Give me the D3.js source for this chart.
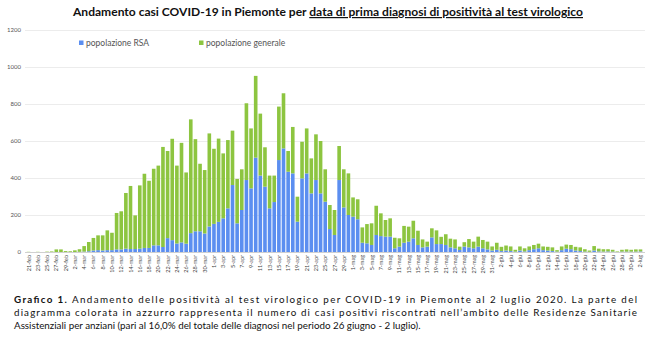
<!DOCTYPE html>
<html>
<head>
<meta charset="utf-8">
<script src="https://d3js.org/d3.v7.min.js"></script>
<style>
  html, body { margin: 0; padding: 0; background: #fff; }
  svg { display: block; font-family: 'Lato', 'DejaVu Sans', sans-serif; }
</style>
</head>
<body>
<div id="chart"></div>
<script>
// casi per giorno, 21-feb .. 2-lug
const rsa = [
  0, 0, 0, 0, 0, 0, 0, 0, 0, 0,
  0, 1, 2, 4, 8, 10, 8, 10, 10, 14,
  14, 18, 16, 16, 18, 22, 22, 36, 36, 27,
  75, 64, 46, 52, 45, 102, 112, 112, 100, 138,
  152, 163, 182, 236, 362, 155, 227, 389, 344, 510,
  413, 353, 236, 270, 497, 560, 434, 425, 164, 398,
  425, 317, 389, 317, 272, 124, 92, 389, 241, 200,
  191, 177, 50, 47, 38, 92, 86, 83, 83, 20,
  29, 50, 56, 74, 38, 25, 29, 79, 43, 43,
  38, 25, 20, 11, 29, 25, 20, 29, 20, 14,
  8, 12, 5, 8, 5, 2, 8, 3, 10, 15,
  20, 10, 8, 5, 2, 10, 18, 15, 8, 5,
  2, 1, 8, 3, 2, 3, 2, 0, 2, 2,
  2, 2, 3
];
const generale = [
  1, 0, 1, 0, 2, 3, 14, 14, 5, 4,
  9, 14, 30, 50, 68, 80, 82, 107, 94, 197,
  206, 301, 341, 182, 342, 401, 363, 414, 431, 541,
  471, 548, 421, 538, 385, 615, 498, 365, 343, 503,
  406, 450, 351, 369, 294, 240, 220, 415, 324, 442,
  335, 213, 177, 143, 289, 298, 112, 251, 135, 198,
  243, 189, 247, 283, 175, 130, 135, 184, 206, 225,
  104, 108, 83, 104, 117, 158, 123, 90, 99, 57,
  45, 91, 81, 95, 77, 43, 27, 49, 74, 39,
  58, 47, 48, 18, 24, 45, 36, 54, 45, 42,
  22, 38, 23, 27, 25, 10, 22, 17, 20, 23,
  25, 20, 20, 20, 8, 20, 22, 23, 20, 20,
  13, 7, 24, 15, 13, 12, 10, 3, 10, 12,
  10, 12, 11
];
const mesi = ["gen", "feb", "mar", "apr", "mag", "giu", "lug"];
const yTicks = [0, 200, 400, 600, 800, 1000, 1200];
const serie = [
  { key: "rsa", label: "popolazione RSA", color: "#5b8ef0" },
  { key: "generale", label: "popolazione generale", color: "#8dc540" }
];

const giorni = d3.timeDay.range(new Date(2020, 1, 21), new Date(2020, 6, 3));
const fmt = d => d.getDate() + "-" + mesi[d.getMonth()];
const dates = giorni.map(fmt);

const rows = dates.map((d, i) => ({ date: d, rsa: rsa[i], generale: generale[i] }));

const W = 650, H = 354;
const svg = d3.select("#chart").append("svg")
  .attr("width", W).attr("height", H);

const x = d3.scaleBand()
  .domain(dates)
  .range([26.7, 642.3])
  .paddingInner(0.22);

const y = d3.scaleLinear()
  .domain([0, 1200])
  .range([252, 30]);

// griglia
svg.append("g")
  .selectAll("line")
  .data(yTicks)
  .enter().append("line")
  .attr("x1", 25).attr("x2", 645)
  .attr("y1", d => y(d) + 0.5).attr("y2", d => y(d) + 0.5)
  .attr("stroke", d => d === 0 ? "#d0d0d0" : "#ececec")
  .attr("stroke-width", 1);

svg.append("g")
  .selectAll("text")
  .data(yTicks)
  .enter().append("text")
  .attr("x", 21).attr("y", d => y(d) + 2)
  .attr("text-anchor", "end")
  .style("font-size", "6px")
  .style("fill", "#555")
  .text(d => d);

// barre
const stack = d3.stack().keys(serie.map(s => s.key));
const layers = stack(rows);

svg.append("g")
  .selectAll("g")
  .data(layers)
  .enter().append("g")
  .attr("fill", (d, i) => serie[i].color)
  .selectAll("rect")
  .data(d => d)
  .enter().append("rect")
  .attr("x", d => x(d.data.date))
  .attr("width", x.bandwidth())
  .attr("y", d => y(d[1]))
  .attr("height", d => y(d[0]) - y(d[1]));

// etichette asse x (una ogni due giorni)
svg.append("g")
  .selectAll("text")
  .data(dates.filter((d, i) => i % 2 === 0))
  .enter().append("text")
  .attr("transform", d => `translate(${x(d) + x.bandwidth() / 2 + 2},255) rotate(-90)`)
  .attr("text-anchor", "end")
  .style("font-size", "5.5px")
  .style("fill", "#444")
  .text(d => d);

// legenda
const leg = svg.append("g");
const legX = [79, 199];
serie.forEach((s, i) => {
  leg.append("rect")
    .attr("x", legX[i]).attr("y", 40.5)
    .attr("width", 4.5).attr("height", 4.5)
    .attr("fill", s.color);
  leg.append("text")
    .attr("x", legX[i] + 7).attr("y", 45.5)
    .style("font-size", "8.5px")
    .style("fill", "#555")
    .text(s.label);
});

// titolo
const title = svg.append("text")
  .attr("x", 328).attr("y", 16)
  .attr("text-anchor", "middle")
  .attr("textLength", 510).attr("lengthAdjust", "spacingAndGlyphs")
  .style("font-size", "12px")
  .style("font-weight", "bold")
  .style("fill", "#111");
title.append("tspan").text("Andamento casi COVID-19 in Piemonte per ");
title.append("tspan").style("text-decoration", "underline")
  .text("data di prima diagnosi di positività al test virologico");

// didascalia
const cap = svg.append("g").style("font-size", "9.8px").style("fill", "#111");
const l1 = cap.append("text").attr("x", 14).attr("y", 303)
  .attr("textLength", 623).attr("lengthAdjust", "spacing");
l1.append("tspan").style("font-weight", "bold").text("Grafico 1. ");
l1.append("tspan").text("Andamento delle positività al test virologico per COVID-19 in Piemonte al 2 luglio 2020. La parte del");
cap.append("text").attr("x", 14).attr("y", 316)
  .attr("textLength", 623).attr("lengthAdjust", "spacing")
  .text("diagramma colorata in azzurro rappresenta il numero di casi positivi riscontrati nell’ambito delle Residenze Sanitarie");
cap.append("text").attr("x", 14).attr("y", 329)
  .text("Assistenziali per anziani (pari al 16,0% del totale delle diagnosi nel periodo 26 giugno - 2 luglio).");
</script>
</body>
</html>
